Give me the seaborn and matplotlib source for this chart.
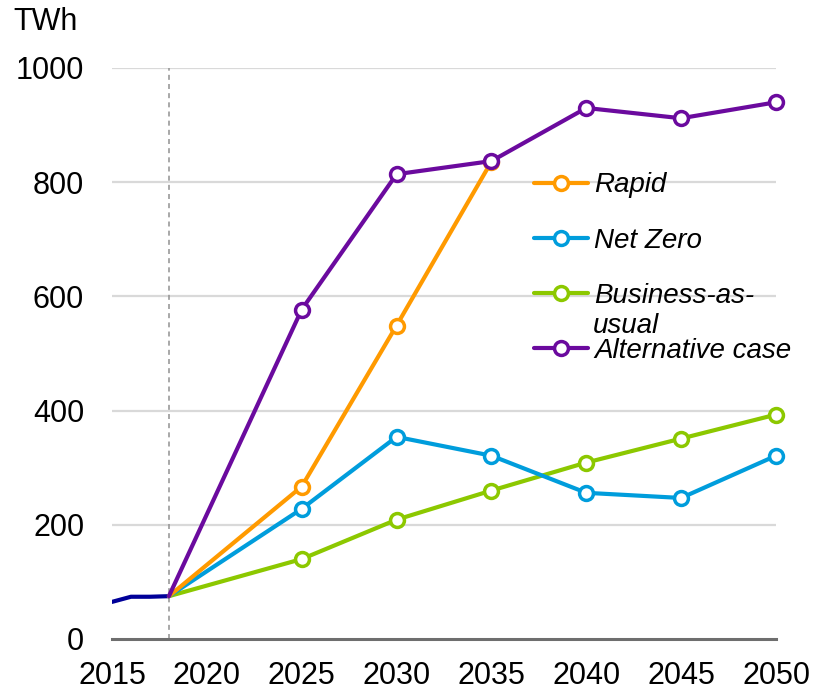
import matplotlib
matplotlib.use("Agg")
import matplotlib.pyplot as plt
import seaborn as sns
import pandas as pd
from matplotlib.lines import Line2D

sns.set_theme(style="white")
plt.rcParams['font.family'] = ['Liberation Sans', 'DejaVu Sans']
plt.rcParams['text.color'] = '#000000'

# ---- data ----
hist_years = [2015, 2016, 2017, 2018]
hist_vals = [65, 74, 74, 75]

scen_years = [2018, 2025, 2030, 2035, 2040, 2045, 2050]
rapid_years = [2018, 2025, 2030, 2035]
rapid = [75, 267, 549, 836]
net_zero = [75, 228, 354, 321, 256, 247, 321]
bau = [75, 140, 209, 260, 309, 351, 393]
alternative = [75, 577, 814, 837, 930, 912, 940]

x_ticks = [2015, 2020, 2025, 2030, 2035, 2040, 2045, 2050]
y_ticks = [0, 200, 400, 600, 800, 1000]

colors = {
    "Rapid": "#FF9A00",
    "Net Zero": "#009DDC",
    "Business-as-usual": "#8CC800",
    "Alternative case": "#6B0A9E",
}
hist_color = "#000099"

fig = plt.figure(figsize=(8.14, 6.95), dpi=100)
ax = fig.add_axes([112/814, 1-639/695, (776-112)/814, (639-68)/695])

# grid
for yv in y_ticks[1:]:
    ax.axhline(yv, color="#D9D9D9", lw=1.6, zorder=0)

ax.axvline(2018, color="#999999", lw=1.2, ls=(0, (3, 2.5)), zorder=1)

sns.lineplot(x=hist_years, y=hist_vals, ax=ax, color=hist_color, lw=3.0, zorder=3)

def scen(xs, ys, name, z):
    sns.lineplot(x=xs, y=ys, ax=ax, color=colors[name], lw=3.0, marker="o",
                 markersize=10, markerfacecolor="white", markeredgecolor=colors[name],
                 markeredgewidth=2.5, markevery=slice(1, None), zorder=z, clip_on=False)

scen(scen_years, bau, "Business-as-usual", 3)
scen(scen_years, net_zero, "Net Zero", 4)
scen(rapid_years, rapid, "Rapid", 5)
scen(scen_years, alternative, "Alternative case", 6)

ax.set_xlim(2015, 2050)
ax.set_ylim(0, 1000)
ax.set_xticks(x_ticks)
ax.set_yticks(y_ticks)
ax.set_xticklabels([str(v) for v in x_ticks])
ax.set_yticklabels([str(v) for v in y_ticks])
ax.tick_params(axis="x", labelsize=22, pad=15.5, length=0, colors="#000000")
ax.tick_params(axis="y", labelsize=22, pad=20, length=0, colors="#000000")
ax.set_xlabel("")
ax.set_ylabel("")
for s in ["top", "right", "left"]:
    ax.spines[s].set_visible(False)
ax.spines["bottom"].set_color("#6E6E6E")
ax.spines["bottom"].set_linewidth(2.2)
ax.spines["bottom"].set_zorder(2)

# legend
names = ["Rapid", "Net Zero", "Business-as-usual", "Alternative case"]
labels = ["Rapid", "Net Zero", "Business-as-", "Alternative case"]
handles = [Line2D([], [], color=colors[n], lw=3.0, marker="o", markersize=10,
                  markerfacecolor="white", markeredgecolor=colors[n], markeredgewidth=2.5)
           for n in names]
leg = ax.legend(handles, labels, loc="upper left", bbox_to_anchor=(0.636, 0.817),
                frameon=False, prop={"size": 20, "style": "italic"},
                handlelength=1.95, handletextpad=0.2, labelspacing=1.05,
                borderpad=0, borderaxespad=0, labelcolor="#000000")
fig.text(593/814, 1-326/695, "usual", fontsize=20, style="italic", va="center", ha="left",
         color="#000000")

fig.text(13/814, 1-22/695, "TWh", fontsize=22, va="center", ha="left", color="#000000")

fig.savefig("out.png", dpi=100)
